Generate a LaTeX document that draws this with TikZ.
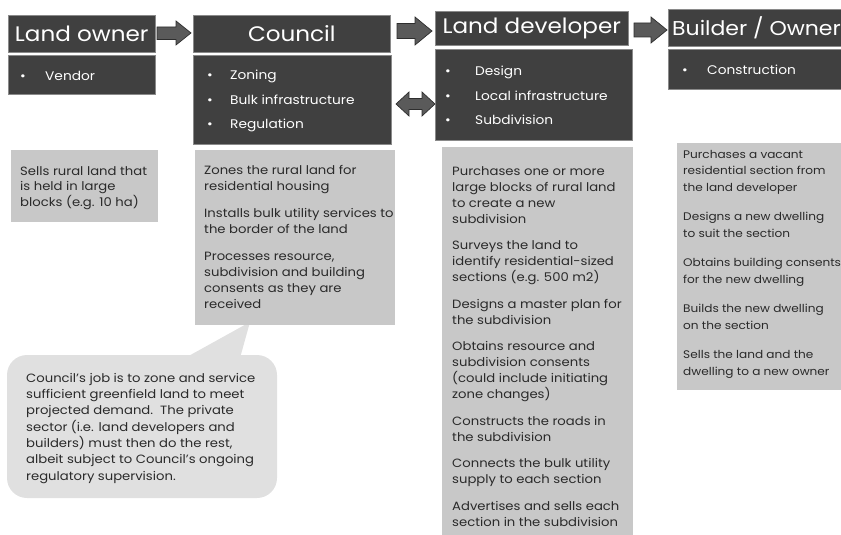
\documentclass[tikz,border=0pt]{standalone}
\usepackage{fontspec}
\setmainfont{Poppins}[FakeStretch=1.1]
\definecolor{darkbox}{HTML}{404040}
\definecolor{boxedge}{HTML}{8A8A8A}
\definecolor{descgray}{HTML}{C8C8C8}
\definecolor{callgray}{HTML}{E0E0E0}
\definecolor{arrowgray}{HTML}{5A5A5A}
\definecolor{arrowedge}{HTML}{2E2E2E}
\definecolor{textgray}{HTML}{2A2A2A}
\tikzset{
  hdr/.style={fill=darkbox, draw=boxedge, line width=0.6pt, text=white,
    font=\fontsize{21}{24}\selectfont, inner sep=0pt, anchor=north west},
  hdrtext/.style={text=white, font=\fontsize{20}{24}\selectfont, inner sep=0pt},
  ptbox/.style={fill=darkbox, draw=boxedge, line width=0.6pt, inner sep=0pt, anchor=north west},
  pttext/.style={text=white, font=\fontsize{12.5}{24.5}\selectfont, align=left,
    inner sep=0pt, anchor=north west},
  descbox/.style={fill=descgray, inner sep=0pt, anchor=north west},
  desctext/.style={text=textgray, font=\fontsize{12}{16}\selectfont, align=left,
    inner sep=0pt, anchor=north west},
  blockarrow/.style={fill=arrowgray, draw=arrowedge, line width=0.7pt, line join=miter}
}
\begin{document}
\begin{tikzpicture}[x=1pt,y=-1pt]
\useasboundingbox (0,0) rectangle (841,535);
\clip (0,0) rectangle (841,535);

% callout (drawn first so its tail runs under the Council box)
\fill[callgray, rounded corners=20pt] (7,355) rectangle (277,498);
\fill[callgray] (185,358) -- (250,322) -- (240,358) -- cycle;
\node[desctext, font=\fontsize{12}{16.3}\selectfont] (calltext) at (26,373)
 {Council's job is to zone and service\\
  sufficient greenfield land to meet\\
  projected demand.\ \ The private\\
  sector (i.e. land developers and\\
  builders) must then do the rest,\\
  albeit subject to Council's ongoing\\
  regulatory supervision.};

% headers
\node[hdr, minimum width=147pt, minimum height=37pt] (hlo) at (8,15) {Land owner};
\node[hdr, minimum width=197pt, minimum height=37pt] (hco) at (193,15) {Council};
\node[hdr, minimum width=193pt, minimum height=34pt] (hld) at (435,11) {Land developer};
\node[hdr, minimum width=200pt, minimum height=37pt] (hbo) at (668,9) {};
\node[hdrtext, anchor=west] (hbot) at (672,28) {Builder / Owner};

% role boxes
\node[ptbox, minimum width=147pt, minimum height=39pt] (plo) at (8,55) {};
\node[pttext] (tlo) at (20,71) {\makebox[25pt][l]{•}Vendor};
\node[ptbox, minimum width=198pt, minimum height=89pt] (pco) at (193,55) {};
\node[pttext] (tco) at (207,70) {\makebox[23pt][l]{•}Zoning\\
  \makebox[23pt][l]{•}Bulk infrastructure\\
  \makebox[23pt][l]{•}Regulation};
\node[ptbox, minimum width=197pt, minimum height=91pt] (pld) at (435,49) {};
\node[pttext] (tld) at (445,66) {\makebox[30pt][l]{•}Design\\
  \makebox[30pt][l]{•}Local infrastructure\\
  \makebox[30pt][l]{•}Subdivision};
\node[ptbox, minimum width=200pt, minimum height=40pt] (pbo) at (668,49) {};
\node[pttext] (tbo) at (682,65) {\makebox[25pt][l]{•}Construction};

% block arrows
\draw[blockarrow] (157,27) -- (176,27) -- (176,21) -- (191,33) -- (176,45)
  -- (176,39.5) -- (157,39.5) -- cycle;
\draw[blockarrow] (397,23.5) -- (415,23.5) -- (415,17) -- (432,31) -- (415,45)
  -- (415,38.5) -- (397,38.5) -- cycle;
\draw[blockarrow] (634,23) -- (651,23) -- (651,17) -- (667,30) -- (651,43)
  -- (651,37) -- (634,37) -- cycle;
\draw[blockarrow] (396,104) -- (409,92) -- (409,98.5) -- (422,98.5) -- (422,92)
  -- (435,104) -- (422,116) -- (422,109.5) -- (409,109.5) -- (409,116) -- cycle;

% description boxes
\node[descbox, minimum width=147pt, minimum height=72pt] (dlo) at (11,150) {};
\node[desctext, font=\fontsize{12}{15.5}\selectfont] (xlo) at (20,166)
 {Sells rural land that\\ is held in large\\ blocks (e.g. 10 ha)};

\node[descbox, minimum width=200pt, minimum height=175pt] (dco) at (195,150) {};
\node[desctext] (xco) at (204,165)
 {Zones the rural land for\\ residential housing\\[11pt]
  Installs bulk utility services to\\ the border of the land\\[11pt]
  Processes resource,\\ subdivision and building\\ consents as they are\\ received};

\node[descbox, minimum width=191pt, minimum height=395pt] (dld) at (442,147) {};
\node[desctext] (xld) at (452,166)
 {Purchases one or more\\ large blocks of rural land\\ to create a new\\ subdivision\\[10.5pt]
  Surveys the land to\\ identify residential-sized\\ sections (e.g. 500 m2)\\[10.5pt]
  Designs a master plan for\\ the subdivision\\[10.5pt]
  Obtains resource and\\ subdivision consents\\ (could include initiating\\ zone changes)\\[10.5pt]
  Constructs the roads in\\ the subdivision\\[10.5pt]
  Connects the bulk utility\\ supply to each section\\[10.5pt]
  Advertises and sells each\\ section in the subdivision};

\node[descbox, minimum width=190pt, minimum height=247pt] (dbo) at (677,143) {};
\node[desctext, font=\fontsize{11}{16.5}\selectfont] (xbo) at (683,150)
 {Purchases a vacant\\ residential section from\\ the land developer\\[13pt]
  Designs a new dwelling\\ to suit the section\\[13pt]
  Obtains building consents\\ for the new dwelling\\[13pt]
  Builds the new dwelling\\ on the section\\[13pt]
  Sells the land and the\\ dwelling to a new owner};
\end{tikzpicture}
\end{document}
